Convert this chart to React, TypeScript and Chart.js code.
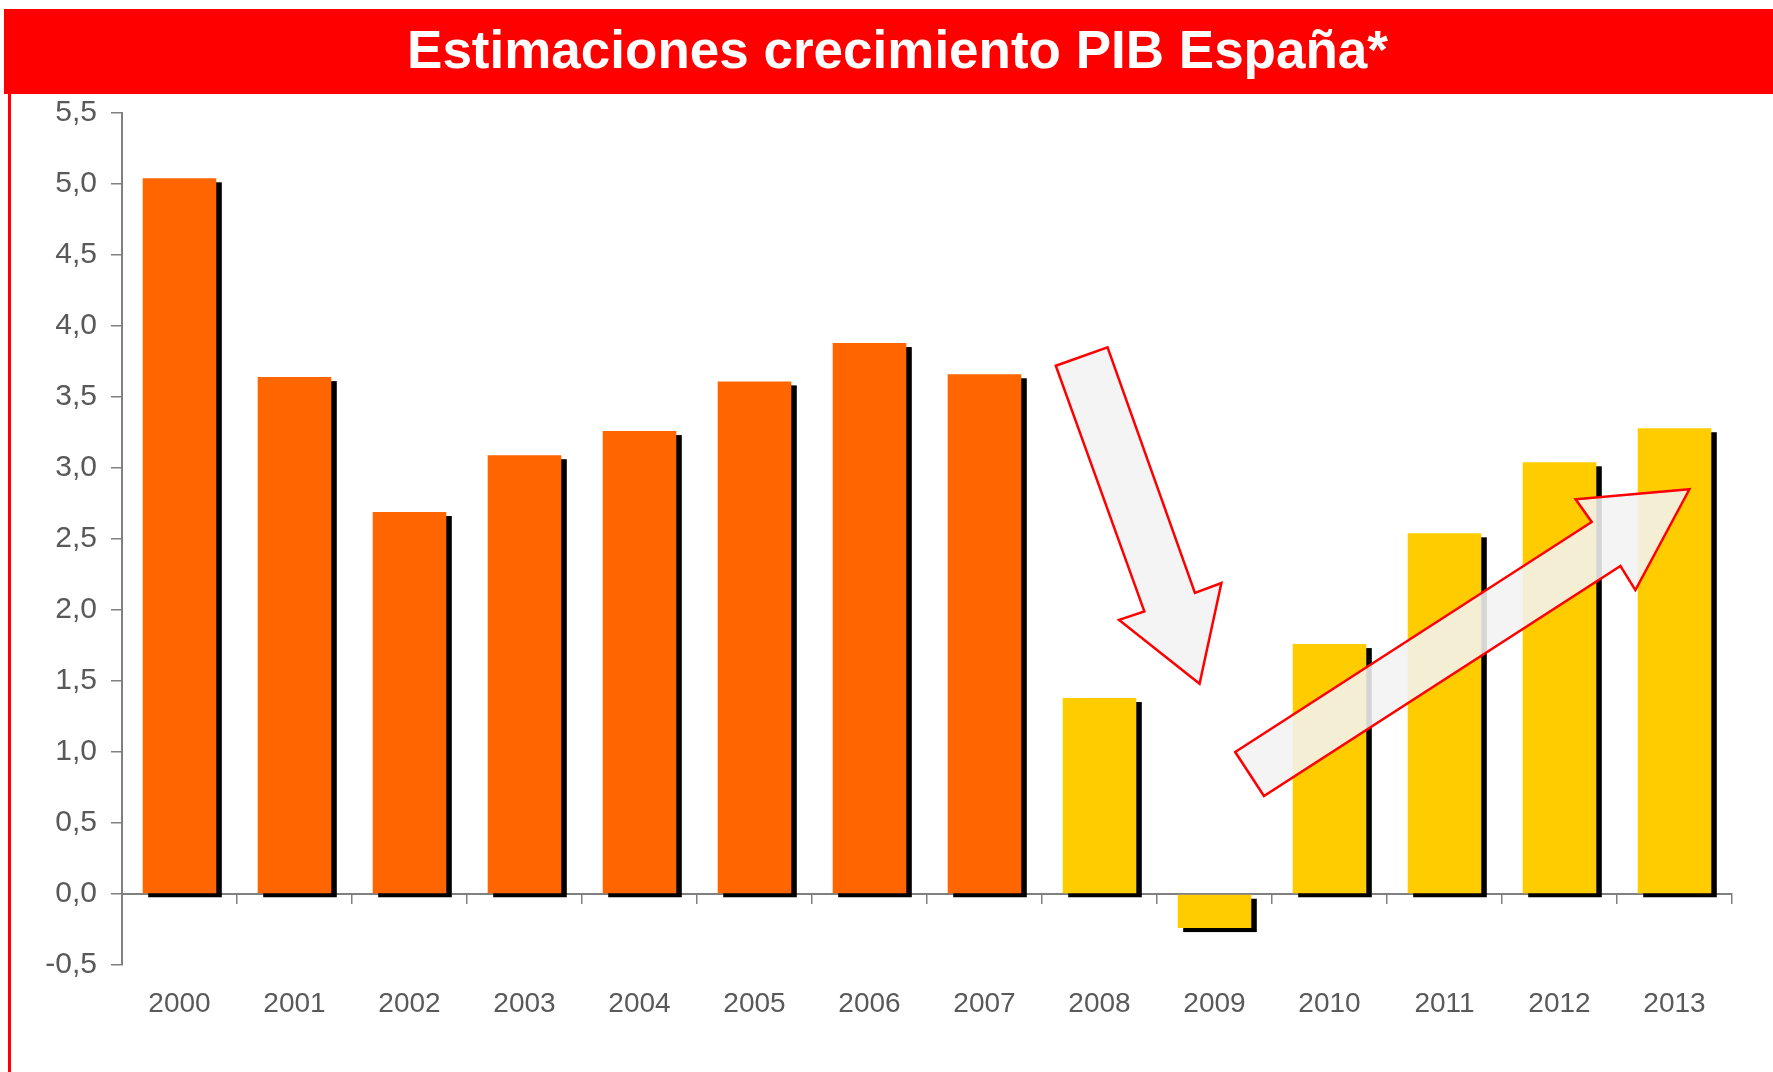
import React, { useEffect, useRef } from 'react';
import { Chart, registerables } from 'chart.js';

Chart.register(...registerables);

const TITLE = 'Estimaciones crecimiento PIB España*';

const years = ['2000', '2001', '2002', '2003', '2004', '2005', '2006', '2007', '2008', '2009', '2010', '2011', '2012', '2013'];
const growth = [5.04, 3.64, 2.69, 3.09, 3.26, 3.61, 3.88, 3.66, 1.38, -0.24, 1.76, 2.54, 3.04, 3.28];
const isEstimate = [false, false, false, false, false, false, false, false, true, true, true, true, true, true];

const Y_MIN = -0.5;
const Y_MAX = 5.5;
const Y_STEP = 0.5;

// Annotation arrows, in data coordinates [category index, value]
const downArrow = [[7.62, 3.72], [8.07, 3.85], [8.83, 2.12], [9.06, 2.19], [8.87, 1.48], [8.17, 1.93], [8.39, 1.99]];
const upArrow = [[9.18, 1.0], [12.28, 2.62], [12.14, 2.78], [13.13, 2.85], [12.66, 2.14], [12.53, 2.31], [9.43, 0.69]];

const ORANGE = '#FF6600';
const YELLOW = '#FFCC00';
const FONT = "'Liberation Sans', Arial, sans-serif";

const shadowPlugin = {
  id: 'barShadow',
  beforeDatasetsDraw(chart: any) {
    const ctx = chart.ctx;
    const meta = chart.getDatasetMeta(0);
    ctx.save();
    ctx.fillStyle = '#000000';
    meta.data.forEach((el: any) => {
      const { x, y, base, width } = el.getProps(['x', 'y', 'base', 'width'], true);
      const top = Math.min(y, base);
      const h = Math.abs(base - y);
      ctx.fillRect(x - width / 2 + 5.5, top + 4, width, h);
    });
    ctx.restore();
  },
};

const arrowPlugin = {
  id: 'arrows',
  afterDatasetsDraw(chart: any) {
    const ctx = chart.ctx;
    const xs = chart.scales.x;
    const ys = chart.scales.y;
    const drawPoly = (pts: number[][]) => {
      ctx.beginPath();
      pts.forEach((p, i) => {
        const px = xs.getPixelForValue(p[0]);
        const py = ys.getPixelForValue(p[1]);
        if (i === 0) ctx.moveTo(px, py);
        else ctx.lineTo(px, py);
      });
      ctx.closePath();
      ctx.fillStyle = 'rgba(242,242,242,0.88)';
      ctx.fill();
      ctx.lineWidth = 2.5;
      ctx.lineJoin = 'miter';
      ctx.strokeStyle = '#FF0000';
      ctx.stroke();
    };
    ctx.save();
    drawPoly(downArrow);
    drawPoly(upArrow);
    ctx.restore();
  },
};

export default function App() {
  const canvasRef = useRef<HTMLCanvasElement | null>(null);

  useEffect(() => {
    if (!canvasRef.current) return;
    const chart = new Chart(canvasRef.current, {
      type: 'bar',
      data: {
        labels: years,
        datasets: [
          {
            data: growth,
            backgroundColor: isEstimate.map((e) => (e ? YELLOW : ORANGE)),
            borderWidth: 0,
            barPercentage: 0.64,
            categoryPercentage: 1,
          },
        ],
      },
      options: {
        animation: false,
        responsive: false,
        maintainAspectRatio: false,
        layout: { padding: { top: 113, right: 41, left: 0, bottom: 107 } },
        plugins: {
          legend: { display: false },
          tooltip: { enabled: false },
          title: { display: false },
        },
        scales: {
          x: {
            position: { y: 0 } as any,
            grid: {
              drawOnChartArea: false,
              drawTicks: true,
              tickLength: 9,
              color: '#808080',
              lineWidth: 1.5,
              offset: true,
            },
            border: { display: true, color: '#808080', width: 2 },
            ticks: {
              color: '#595959',
              font: { family: FONT, size: 28 },
              padding: 84,
              maxRotation: 0,
            },
            afterFit: (scale: any) => {
              scale.paddingLeft = 0;
              scale.paddingRight = 0;
            },
          },
          y: {
            min: Y_MIN,
            max: Y_MAX,
            grid: {
              drawOnChartArea: false,
              drawTicks: true,
              tickLength: 11,
              color: '#808080',
              lineWidth: 1.5,
            },
            border: { display: true, color: '#808080', width: 2 },
            ticks: {
              stepSize: Y_STEP,
              color: '#595959',
              font: { family: FONT, size: 30 },
              padding: 14,
              callback: (v: any) => Number(v).toFixed(1).replace('.', ','),
            },
            afterFit: (scale: any) => {
              scale.width = 122;
            },
          },
        },
      },
      plugins: [shadowPlugin, arrowPlugin],
    });
    return () => chart.destroy();
  }, []);

  return (
    <div style={{ position: 'absolute', left: 0, top: 0, width: 1773, height: 1072, overflow: 'hidden', background: '#ffffff' }}>
      <canvas ref={canvasRef} width={1773} height={1072} style={{ position: 'absolute', left: 0, top: 0, width: 1773, height: 1072 }} />
      <div
        style={{
          position: 'absolute',
          left: 4,
          top: 9,
          width: 1769,
          height: 85,
          background: '#FF0000',
          color: '#ffffff',
          display: 'flex',
          alignItems: 'center',
          justifyContent: 'center',
          fontFamily: FONT,
          fontWeight: 'bold',
          fontSize: 53,
          whiteSpace: 'nowrap',
          paddingLeft: 18,
          paddingBottom: 4,
          boxSizing: 'border-box',
        }}
      >
        {TITLE}
      </div>
      <div style={{ position: 'absolute', left: 8, top: 94, width: 3, height: 978, background: '#FF0000' }} />
    </div>
  );
}
